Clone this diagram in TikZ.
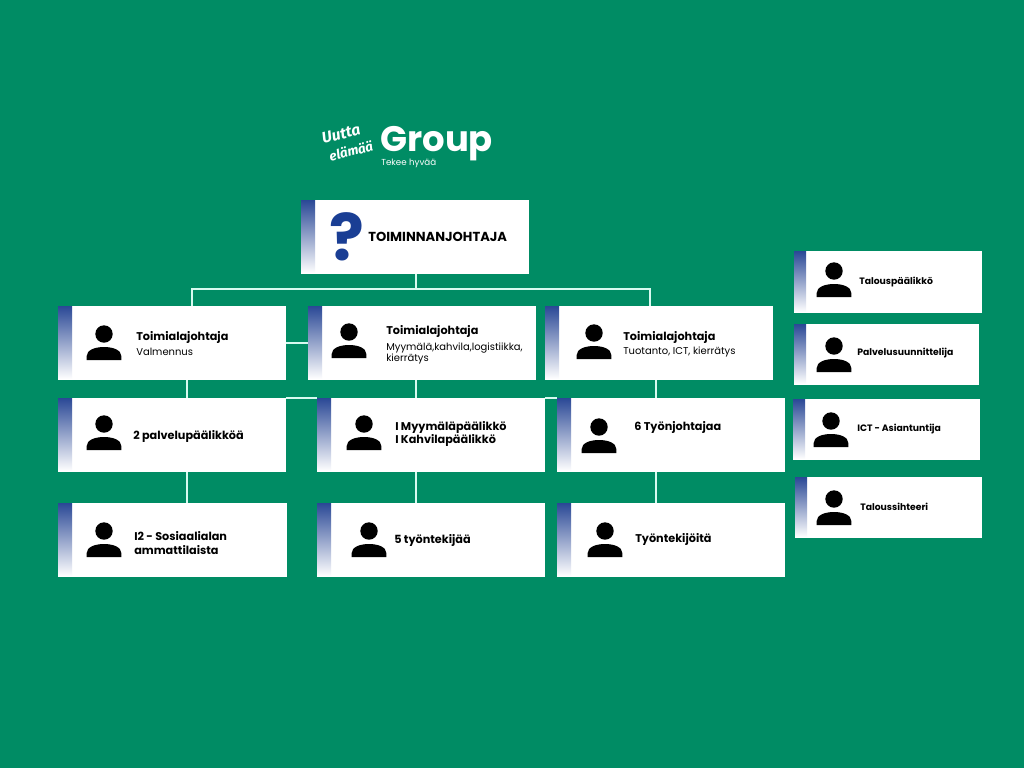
\documentclass[tikz,border=0pt]{standalone}
\usepackage{fontspec}
\setmainfont{Poppins}
\newfontfamily\scriptfam{Fira Sans}
\usetikzlibrary{calc}
\definecolor{bggreen}{RGB}{0,140,100}
\definecolor{linemint}{RGB}{215,250,240}
\definecolor{stripblue}{RGB}{42,72,150}
\definecolor{qblue}{RGB}{26,62,148}
\tikzset{
	card/.style={fill=white, inner sep=0pt, outer sep=0pt},
	link/.style={draw=linemint, line width=1.3pt},
	title/.style={anchor=west, font=\fontsize{8}{9.6}\selectfont\bfseries, inner sep=0pt, align=left},
	sub/.style={anchor=west, font=\fontsize{7.1}{7.8}\selectfont, inner sep=0pt, align=left},
	small/.style={anchor=west, font=\fontsize{6.6}{7}\selectfont\bfseries, inner sep=0pt},
	logo/.style={text=white, inner sep=0pt},
	pics/person/.style={code={
		\fill[black] (0,-9) circle (8.7);
		\fill[black] (-17.3,17) -- (-17.3,13) .. controls (-17.3,7) and (-9,4) .. (0,4) .. controls (9,4) and (17.3,7) .. (17.3,13) -- (17.3,17) -- cycle;
	}}
}
% card: strip width, name, left, top, right, bottom
\newcommand{\card}[6][14]{
	\node[card, minimum width=#5*0.25mm-#3*0.25mm, minimum height=#6*0.25mm-#4*0.25mm] (#2) at ({(#3+#5)/2},{(#4+#6)/2}) {};
	\shade[top color=stripblue, bottom color=white] (#3,#4) rectangle ({#3+#1},{#6-1});
}
\begin{document}
\begin{tikzpicture}[x=0.25mm, y=-0.25mm]
	\fill[bggreen] (0,0) rectangle (1024,768);
	\useasboundingbox (0,0) rectangle (1024,768);
	% logo
	\node[logo, font=\fontsize{11}{11}\selectfont\scriptfam\bfseries\itshape, rotate=14] (uutta) at (341,134) {Uutta};
	\node[logo, font=\fontsize{9.4}{10}\selectfont\scriptfam\bfseries\itshape, rotate=14] (elamaa) at (351,151) {elämää};
	\node[logo, anchor=west, font=\fontsize{25.2}{26}\selectfont\bfseries] (group) at (380,144) {Group};
	\node[logo, anchor=west, font=\fontsize{6.2}{7}\selectfont] (tekee) at (381,163) {Tekee hyvää};
	% top
	\card{toim}{301}{200}{529}{274}
	\node[font=\fontsize{46}{46}\selectfont\bfseries, text=qblue, inner sep=0pt] (mark) at (347,237) {?};
	\node[title, font=\fontsize{9.3}{10}\selectfont\bfseries] (toimt) at (368,237) {TOIMINNANJOHTAJA};
	% second row
	\card{ala}{58}{306}{286}{380}
	\card{alb}{308}{306}{536}{380}
	\card{alc}{545}{306}{773}{380}
	% third row
	\card{pa}{58}{398}{286}{472}
	\card{pb}{317}{398}{545}{472}
	\card{pc}{557}{398}{785}{472}
	% last row
	\card{ta}{58}{503}{287}{577}
	\card{tb}{317}{503}{545}{577}
	\card{tc}{557}{503}{785}{577}
	% right column
	\card[12]{sa}{794}{251}{982}{313}
	\card[12]{sb}{794}{324}{979}{385}
	\card[12]{sc}{793}{399}{980}{460}
	\card[12]{sd}{795}{477}{982}{538}
	% links
	\coordinate (busl) at (192,289);
	\coordinate (busr) at (650,289);
	\coordinate (dropa) at (187,398);
	\coordinate (dropc) at (656,398);
	\draw[link] (toim.south -| 416,0) -- (416,289);
	\draw[link] (ala.north -| busl) -- (busl) -- (busr) -- (alc.north -| busr);
	\draw[link] (ala.east) -- (alb.west);
	\draw[link] (alb.south -| 416,0) -- (pb.north -| 416,0);
	\draw[link] (pa.north east) -- (pb.north west);
	\draw[link] (pb.north east) -- (pc.north west);
	\draw[link] (ala.south -| dropa) -- (dropa);
	\draw[link] (alc.south -| dropc) -- (dropc);
	\draw[link] (pa.south -| dropa) -- (ta.north -| dropa);
	\draw[link] (pb.south -| 416,0) -- (tb.north -| 416,0);
	\draw[link] (pc.south -| dropc) -- (tc.north -| dropc);
	% people
	\pic at (104,343) {person};
	\pic at (349,341) {person};
	\pic at (594,342) {person};
	\pic at (104,433) {person};
	\pic at (364,433) {person};
	\pic at (599,436) {person};
	\pic at (104,540) {person};
	\pic at (369,540) {person};
	\pic at (605,540) {person};
	\pic at (834,280) {person};
	\pic at (834,355) {person};
	\pic at (831,430) {person};
	\pic at (834,508) {person};
	% texts
	\node[title] (alat) at (136,337) {Toimialajohtaja};
	\node[sub] (alas) at (136,352) {Valmennus};
	\node[title] (albt) at (386,331) {Toimialajohtaja};
	\node[sub] (albs) at (386,353) {Myymälä,kahvila,logistiikka,\\kierrätys};
	\node[title] (alct) at (623,337) {Toimialajohtaja};
	\node[sub] (alcs) at (623,352) {Tuotanto, ICT, kierrätys};
	\node[title] (pat) at (133,436) {2 palvelupäälikköä};
	\node[title] (pbt) at (395,434) {I Myymäläpäälikkö\\I Kahvilapäälikkö};
	\node[title] (pct) at (634,427) {6 Työnjohtajaa};
	\node[title] (tat) at (134,543) {I2 - Sosiaalialan\\ammattilaista};
	\node[title] (tbt) at (394,540) {5 työntekijää};
	\node[title] (tct) at (635,539) {Työntekijöitä};
	\node[small] (sat) at (859,282) {Talouspäälikkö};
	\node[small] (sbt) at (857,353) {Palvelusuunnittelija};
	\node[small] (sct) at (857,429) {ICT - Asiantuntija};
	\node[small] (sdt) at (860,507) {Taloussihteeri};
\end{tikzpicture}
\end{document}
